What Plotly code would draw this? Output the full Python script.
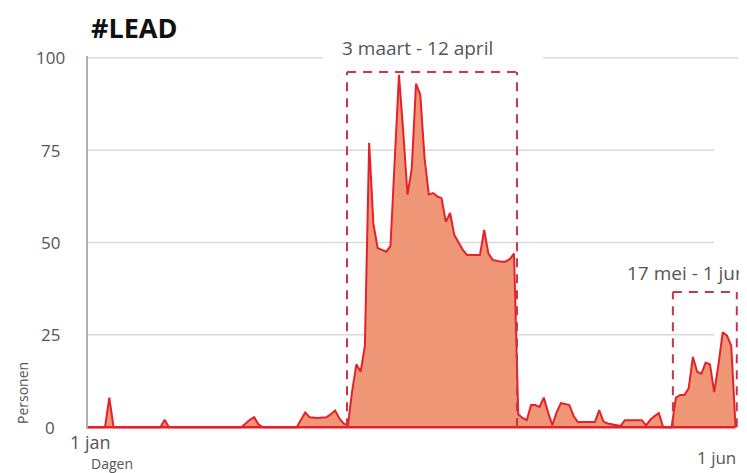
import plotly.graph_objects as go

# ---- data: daily number of persons, day 0 = 1 jan ----
persons = [
    0, 0, 0, 0, 0, 8, 0, 0, 0, 0,            # 0-9
    0, 0, 0, 0, 0, 0, 0, 0, 2, 0,            # 10-19
    0, 0, 0, 0, 0, 0, 0, 0, 0, 0,            # 20-29
    0, 0, 0, 0, 0, 0, 0, 1, 2, 2.7,          # 30-39
    0.8, 0, 0, 0, 0, 0, 0, 0, 0, 0,          # 40-49
    2, 4, 2.7, 2.5, 2.5, 2.6, 2.7, 3.5, 4.5, 2.4,   # 50-59
    1, 0.5, 9.7, 17, 15, 22, 77, 55, 48.5, 48,      # 60-69
    47.5, 49, 72, 95.4, 80, 63, 70, 93, 90, 73,     # 70-79
    63, 63.4, 62.5, 62, 55.6, 58, 52, 50, 48, 46.6, # 80-89
    46.6, 46.6, 46.6, 53.4, 47, 45.3, 45, 44.8, 44.8, 45.5,  # 90-99
    47, 3.5, 2.5, 1.9, 6, 6, 5.5, 8, 4, 0.5,        # 100-109
    4, 6.5, 6.3, 6, 3, 1.4, 1.4, 1.4, 1.4, 1.4,     # 110-119
    4.6, 1.5, 1, 0.7, 0.5, 0.3, 1.9, 1.9, 1.9, 1.9, # 120-129
    1.9, 0.5, 2, 3, 3.8, 0, 0, 0, 8, 8.7,           # 130-139
    8.7, 10.5, 19, 15, 14.5, 17.5, 17, 9.5, 17, 25.7,  # 140-149
    24.8, 22, 0,                                    # 150-152
]
days = list(range(len(persons)))

y_tick_values = [0, 25, 50, 75, 100]
y_tick_labels = ["0", "25", "50", "75", "100"]
x_tick_labels = ["1 jan", "1 jun"]

period_labels = ["3 maart - 12 april", "17 mei - 1 jun"]
period_start = [60.8, 137.3]
period_end = [100.7, 152.3]
period_top = [96.2, 36.6]

# ---- layout geometry (window pixels; the page body adds an 8px offset) ----
OFF = 8
W, H = 747, 473
PLOT_L, PLOT_R, PLOT_T, PLOT_B = 88, 747, 56, 429   # in window pixels
ML = PLOT_L - OFF
MT = PLOT_T - OFF
MR = W - (PLOT_R - OFF)
MB = H - (PLOT_B - OFF)
PW = W - ML - MR
PH = H - MT - MB
PX_PER_DAY = 4.26
Y_MIN, Y_MAX = -0.5, 100.5


def xp(px):
    return (px - PLOT_L) / PW


def yp(py):
    return (PLOT_B - py) / PH


def day_at(px):
    return (px - PLOT_L) / PX_PER_DAY


RED = "#e4222b"
FILL = "#ee9676"
BOX = "#c53a48"
GRID = "#dadada"
TXT = "#555555"
FONT = "Open Sans"

fig = go.Figure()
fig.add_trace(go.Scatter(
    x=days, y=persons, mode="lines",
    line=dict(color=RED, width=2),
    fill="tozeroy", fillcolor=FILL,
    hoverinfo="skip", showlegend=False,
))

shapes = []
# gridlines
for v in y_tick_values[1:-1]:
    shapes.append(dict(type="line", xref="x", yref="y", x0=0, x1=day_at(714),
                       y0=v, y1=v, line=dict(color=GRID, width=1.5), layer="below"))
shapes.append(dict(type="line", xref="x", yref="y", x0=0, x1=day_at(323),
                   y0=100, y1=100, line=dict(color=GRID, width=1.5), layer="below"))
shapes.append(dict(type="line", xref="x", yref="y", x0=day_at(543), x1=day_at(738),
                   y0=100, y1=100, line=dict(color=GRID, width=1.5), layer="below"))
# baseline
shapes.append(dict(type="line", xref="x", yref="y", x0=0, x1=day_at(735.5),
                   y0=0, y1=0, line=dict(color=RED, width=2.5)))
# period boxes
for s, e, t in zip(period_start, period_end, period_top):
    bl = dict(color=BOX, width=2, dash="9px,7px")
    shapes.append(dict(type="line", xref="x", yref="y", x0=s, x1=s, y0=0, y1=t, line=bl))
    shapes.append(dict(type="line", xref="x", yref="y", x0=e, x1=e, y0=0, y1=t, line=bl))
    shapes.append(dict(type="line", xref="x", yref="y", x0=s, x1=e, y0=t, y1=t, line=bl))

annotations = []
# y tick labels (centred around x=50px)
for v, lab in zip(y_tick_values, y_tick_labels):
    annotations.append(dict(text=lab, xref="paper", yref="y", x=xp(50), y=v,
                            xanchor="center", yanchor="middle", showarrow=False,
                            font=dict(family=FONT, size=17, color=TXT)))
# x tick labels
annotations.append(dict(text=x_tick_labels[0], xref="paper", yref="paper", x=xp(90), y=yp(442),
                        xanchor="center", yanchor="middle", showarrow=False,
                        font=dict(family=FONT, size=18, color=TXT)))
annotations.append(dict(text=x_tick_labels[1], xref="paper", yref="paper", x=xp(738), y=yp(457),
                        xanchor="right", yanchor="middle", showarrow=False,
                        font=dict(family=FONT, size=17, color=TXT)))
# axis titles
annotations.append(dict(text="Personen", xref="paper", yref="paper", x=xp(22), y=yp(393),
                        xanchor="center", yanchor="middle", textangle=-90, showarrow=False,
                        font=dict(family=FONT, size=14, color=TXT)))
annotations.append(dict(text="Dagen", xref="paper", yref="paper", x=xp(89), y=yp(463),
                        xanchor="left", yanchor="middle", showarrow=False,
                        font=dict(family=FONT, size=14, color=TXT)))
# period labels
annotations.append(dict(text=period_labels[0], xref="paper", yref="paper", x=xp(340), y=yp(48),
                        xanchor="left", yanchor="middle", showarrow=False,
                        font=dict(family=FONT, size=19, color=TXT)))
annotations.append(dict(text=period_labels[1], xref="paper", yref="paper", x=xp(625), y=yp(273),
                        xanchor="left", yanchor="middle", showarrow=False,
                        font=dict(family=FONT, size=19, color=TXT)))
# title
annotations.append(dict(text="<b>#LEAD</b>", xref="paper", yref="paper", x=xp(89), y=yp(28),
                        xanchor="left", yanchor="middle", showarrow=False,
                        font=dict(family=FONT, size=27, color="#111111")))

fig.update_layout(
    width=W, height=H,
    margin=dict(l=ML, r=MR, t=MT, b=MB),
    paper_bgcolor="white", plot_bgcolor="white",
    xaxis=dict(range=[0, PW / PX_PER_DAY], showgrid=False, zeroline=False,
               showticklabels=False, ticks="", fixedrange=True),
    yaxis=dict(range=[Y_MIN, Y_MAX], showgrid=False, zeroline=False,
               showticklabels=False, ticks="", showline=True, linecolor="#b0b0b0",
               linewidth=1.5, fixedrange=True),
    shapes=shapes, annotations=annotations,
)

fig.write_html("out.html", config={"displayModeBar": False})
